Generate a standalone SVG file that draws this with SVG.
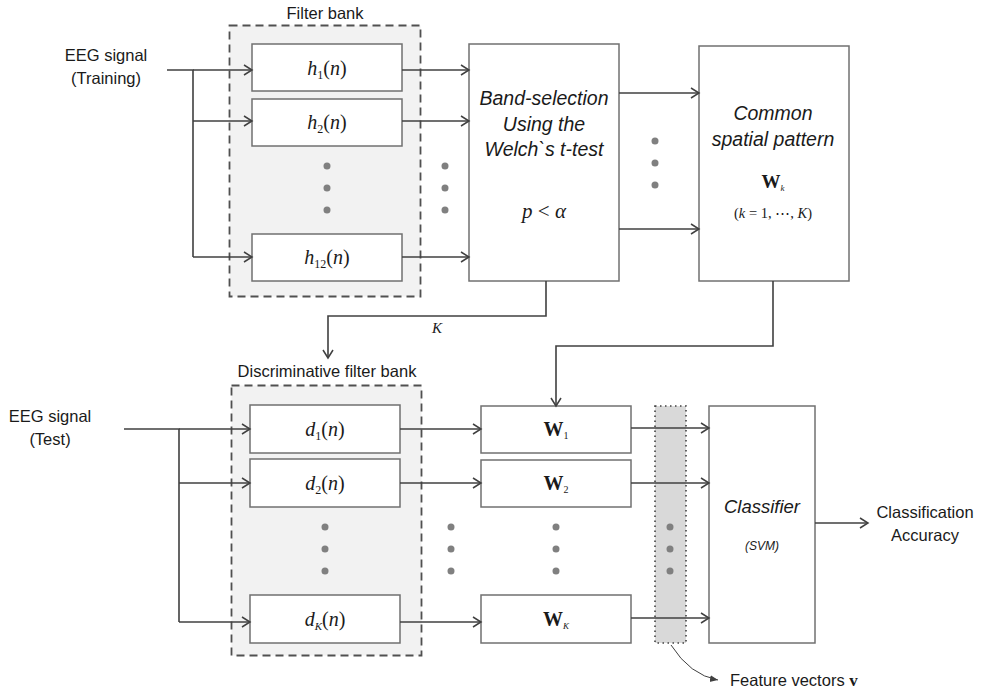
<svg xmlns="http://www.w3.org/2000/svg" width="985" height="695" viewBox="0 0 985 695">
<defs>
<marker id="arr" markerUnits="userSpaceOnUse" markerWidth="12" markerHeight="14" refX="9" refY="6" orient="auto">
<path d="M1,1 L9,6 L1,11" fill="none" stroke="#404040" stroke-width="1.5"/>
</marker>
<marker id="tri" markerUnits="userSpaceOnUse" markerWidth="10" markerHeight="10" refX="8" refY="4" orient="auto">
<path d="M0,0.5 L8,4 L0,7.5 Z" fill="#404040"/>
</marker>
</defs>
<style>
.bank{fill:#f2f2f2;stroke:#505050;stroke-width:1.8;stroke-dasharray:8,5}
.box{fill:#ffffff;stroke:#707070;stroke-width:1.5}
.col{fill:#d9d9d9;stroke:#404040;stroke-width:1.6;stroke-dasharray:1.5,3.5}
.ln{fill:none;stroke:#404040;stroke-width:1.6}
.ar{fill:none;stroke:#404040;stroke-width:1.6;marker-end:url(#arr)}
.dot{fill:#808080}
.lab{font-family:"Liberation Sans",Arial,sans-serif;font-size:16.5px;fill:#1a1a1a;text-anchor:middle}
.it{font-family:"Liberation Sans",Arial,sans-serif;font-style:italic;font-size:19.5px;fill:#1a1a1a;text-anchor:middle}
.m{font-family:"Liberation Serif","Times New Roman",serif;font-size:20px;fill:#1a1a1a;text-anchor:middle}
.i{font-style:italic}
.b{font-weight:bold}
</style>

<rect x="0" y="0" width="985" height="695" fill="#ffffff"/>

<g id="filter-bank">
<rect class="bank" x="229.5" y="25.5" width="191" height="271"/>
<text class="lab" x="325" y="19">Filter bank</text>
</g>
<g id="disc-filter-bank">
<rect class="bank" x="231.5" y="385.5" width="190" height="270"/>
<text class="lab" x="327" y="377">Discriminative filter bank</text>
</g>
<g id="feature-column">
<rect class="col" x="655" y="406" width="31" height="237"/>
</g>

<g id="eeg-train">
<text class="lab" x="106" y="61">EEG signal</text>
<text class="lab" x="106" y="84">(Training)</text>
</g>
<g id="eeg-test">
<text class="lab" x="50" y="422">EEG signal</text>
<text class="lab" x="50" y="445">(Test)</text>
</g>

<g id="h1"><rect class="box" x="252" y="44" width="150" height="47"/>
<text class="m" x="327" y="75"><tspan class="i">h</tspan><tspan style="font-size:12px" dy="4">1</tspan><tspan dy="-4">(</tspan><tspan class="i">n</tspan>)</text></g>
<g id="h2"><rect class="box" x="252" y="99" width="150" height="47"/>
<text class="m" x="327" y="129"><tspan class="i">h</tspan><tspan style="font-size:12px" dy="4">2</tspan><tspan dy="-4">(</tspan><tspan class="i">n</tspan>)</text></g>
<g id="h12"><rect class="box" x="252" y="234" width="150" height="47"/>
<text class="m" x="327" y="264"><tspan class="i">h</tspan><tspan style="font-size:12px" dy="4">12</tspan><tspan dy="-4">(</tspan><tspan class="i">n</tspan>)</text></g>

<g id="band-selection"><rect class="box" x="469" y="44" width="150" height="237"/>
<text class="it" x="544" y="105">Band-selection</text>
<text class="it" x="544" y="131">Using the</text>
<text class="it" x="544" y="156">Welch`s t-test</text>
<text class="m" x="544" y="218" style="font-size:21px"><tspan class="i">p</tspan> &lt; <tspan class="i">α</tspan></text></g>

<g id="csp"><rect class="box" x="699" y="46" width="150" height="235"/>
<text class="it" x="773" y="120">Common</text>
<text class="it" x="773" y="146">spatial pattern</text>
<text class="m" x="773" y="188" style="font-size:19px"><tspan class="b">W</tspan><tspan class="i" style="font-size:9px" dy="3">k</tspan></text>
<text class="m" x="773" y="218" style="font-size:14.5px">(<tspan class="i">k</tspan> = 1,  ⋯,  <tspan class="i">K</tspan>)</text></g>

<g id="d1"><rect class="box" x="250" y="405" width="150" height="48"/>
<text class="m" x="325" y="436"><tspan class="i">d</tspan><tspan style="font-size:12px" dy="4">1</tspan><tspan dy="-4">(</tspan><tspan class="i">n</tspan>)</text></g>
<g id="d2"><rect class="box" x="250" y="459" width="150" height="48"/>
<text class="m" x="325" y="490"><tspan class="i">d</tspan><tspan style="font-size:12px" dy="4">2</tspan><tspan dy="-4">(</tspan><tspan class="i">n</tspan>)</text></g>
<g id="dK"><rect class="box" x="250" y="595" width="150" height="48"/>
<text class="m" x="325" y="626"><tspan class="i">d</tspan><tspan class="i" style="font-size:11px" dy="4">K</tspan><tspan dy="-4">(</tspan><tspan class="i">n</tspan>)</text></g>

<g id="W1"><rect class="box" x="481" y="406" width="150" height="47"/>
<text class="m" x="556" y="436" style="font-size:20px"><tspan class="b">W</tspan><tspan style="font-size:10px" dy="3">1</tspan></text></g>
<g id="W2"><rect class="box" x="481" y="460" width="150" height="47"/>
<text class="m" x="556" y="490" style="font-size:20px"><tspan class="b">W</tspan><tspan style="font-size:10px" dy="3">2</tspan></text></g>
<g id="WK"><rect class="box" x="481" y="595" width="150" height="48"/>
<text class="m" x="556" y="626" style="font-size:20px"><tspan class="b">W</tspan><tspan class="i" style="font-size:9px" dy="3">K</tspan></text></g>

<g id="classifier"><rect class="box" x="709" y="406" width="106" height="237"/>
<text class="it" x="762" y="513" style="font-size:18.5px">Classifier</text>
<text class="it" x="762" y="550" style="font-size:12px">(SVM)</text></g>

<g id="output-label">
<text class="lab" x="925" y="518">Classification</text>
<text class="lab" x="925" y="541">Accuracy</text>
</g>
<g id="feature-label">
<text class="lab" x="730" y="686" style="text-anchor:start">Feature vectors <tspan class="b" style="font-family:'Liberation Serif',serif;font-size:17px">v</tspan></text>
</g>

<g id="dots">
<circle class="dot" cx="327" cy="166" r="3.5"/><circle class="dot" cx="327" cy="188" r="3.5"/><circle class="dot" cx="327" cy="210" r="3.5"/>
<circle class="dot" cx="445" cy="166" r="3.5"/><circle class="dot" cx="445" cy="188" r="3.5"/><circle class="dot" cx="445" cy="210" r="3.5"/>
<circle class="dot" cx="655" cy="141" r="3.5"/><circle class="dot" cx="655" cy="163" r="3.5"/><circle class="dot" cx="655" cy="185" r="3.5"/>
<circle class="dot" cx="325" cy="527" r="3.5"/><circle class="dot" cx="325" cy="549" r="3.5"/><circle class="dot" cx="325" cy="571" r="3.5"/>
<circle class="dot" cx="451" cy="527" r="3.5"/><circle class="dot" cx="451" cy="549" r="3.5"/><circle class="dot" cx="451" cy="571" r="3.5"/>
<circle class="dot" cx="556" cy="527" r="3.5"/><circle class="dot" cx="556" cy="549" r="3.5"/><circle class="dot" cx="556" cy="571" r="3.5"/>
<circle class="dot" cx="670" cy="527" r="3.5"/><circle class="dot" cx="670" cy="549" r="3.5"/><circle class="dot" cx="670" cy="571" r="3.5"/>
</g>

<g id="connectors">
<path class="ln" d="M167,70 H193 V257"/>
<path class="ar" d="M193,70 H252"/>
<path class="ar" d="M193,121 H252"/>
<path class="ar" d="M193,257 H252"/>
<path class="ar" d="M402,70 H469"/>
<path class="ar" d="M402,121 H469"/>
<path class="ar" d="M402,257 H469"/>
<path class="ar" d="M619,93 H699"/>
<path class="ar" d="M619,229 H699"/>
<path class="ar" d="M546,281 V316 H328 V358"/>
<text class="m" x="437" y="333" style="font-size:15px"><tspan class="i">K</tspan></text>
<path class="ar" d="M773,281 V346 H556 V406"/>
<path class="ln" d="M124,429 H179 V622"/>
<path class="ar" d="M179,429 H250"/>
<path class="ar" d="M179,483 H250"/>
<path class="ar" d="M179,622 H250"/>
<path class="ar" d="M400,429 H481"/>
<path class="ar" d="M400,483 H481"/>
<path class="ar" d="M400,622 H481"/>
<path class="ar" d="M631,428 H709"/>
<path class="ar" d="M631,483 H709"/>
<path class="ar" d="M631,618 H709"/>
<path class="ar" d="M815,523 H868"/>
<path d="M671,645 Q690,675 718,680" fill="none" stroke="#404040" stroke-width="1" marker-end="url(#tri)"/>
</g>
</svg>
